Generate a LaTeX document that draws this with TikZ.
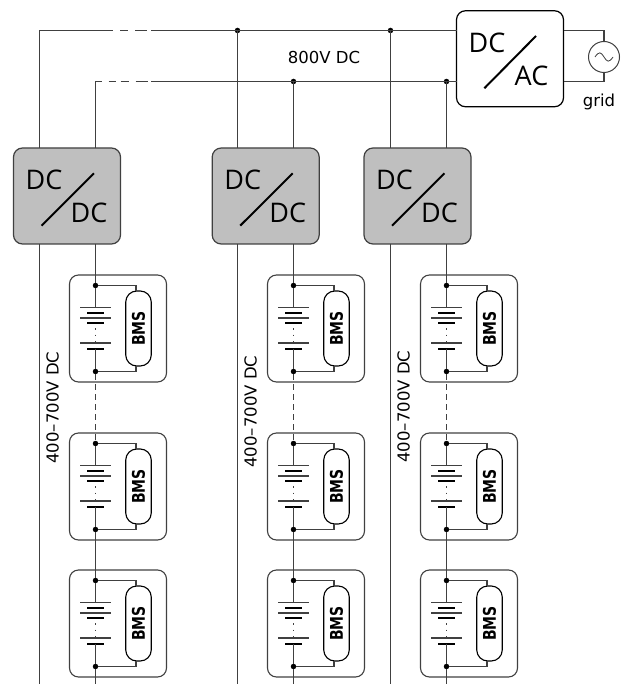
\documentclass[tikz,border=0pt]{standalone}
\usepackage{fontspec}
\setmainfont{Open Sans}
\newfontfamily\labelfont{DejaVu Sans}
\newfontfamily\bmsfont[FakeStretch=0.8]{DejaVu Sans}
\usetikzlibrary{calc}
\definecolor{wirecol}{HTML}{404040}
\tikzset{
  x=1pt,y=-1pt,
  wire/.style={draw=wirecol,line width=1.25pt},
  dashtop/.style={wire,dash pattern=on 8pt off 7pt on 8pt off 7pt on 12pt off 4pt},
  dashlow/.style={wire,dash pattern=on 6pt off 7pt on 7pt off 5pt on 8pt off 7pt on 12pt off 4pt},
  vdash/.style={wire,dash pattern=on 6pt off 4pt},
  conv/.style={draw=wirecol,line width=1.2pt,rounded corners=9pt,minimum width=107pt,minimum height=96pt,inner sep=0pt,outer sep=0pt},
  modbox/.style={draw=wirecol,line width=1.1pt,rounded corners=9pt,minimum width=97pt,minimum height=107pt,inner sep=0pt,outer sep=0pt},
  bms/.style={draw=black,line width=1.1pt,rounded corners=11pt,minimum width=25.5pt,minimum height=75pt,inner sep=0pt,outer sep=0pt},
  bmstxt/.style={inner sep=0pt,rotate=90,font=\bmsfont\fontsize{17.5}{17.5}\selectfont\bfseries},
  junc/.style={circle,fill=black,draw=none,minimum size=5.5pt,inner sep=0pt,outer sep=0pt},
  bigtxt/.style={font=\fontsize{27}{27}\selectfont,inner sep=0pt},
  smalltxt/.style={font=\labelfont\fontsize{16.5}{16.5}\selectfont,inner sep=0pt,text=black},
  slash/.style={draw=black,line width=2pt},
  plong/.style={draw=wirecol,line width=1.1pt},
  pshort/.style={draw=black,line width=2pt},
  tap/.style={draw=wirecol,line width=1.2pt},
}
\begin{document}
\begin{tikzpicture}
\useasboundingbox (0,0) rectangle (625,684);

% inverter
\node[conv,draw=black] (inv) at (510,58.75) {};
\node[bigtxt] (invdc) at (487,42.5) {DC};
\node[bigtxt] (invac) at (531.5,76) {AC};
\draw[slash] (484.3,88.3) -- (536,36);

% grid
\node[circle,draw=wirecol,line width=1pt,minimum size=31pt,inner sep=0pt,outer sep=0pt] (src) at (604,57) {};
\draw[wirecol,line width=0.8pt] (595,57) .. controls (599,51) and (601,52) .. (604,57) .. controls (607,62) and (609,63) .. (613,57);
\node[smalltxt] (gridlbl) at (599,102) {grid};
\coordinate (invT) at (563.5,30.5);
\coordinate (invB) at (563.5,81.5);
\coordinate (invL1) at (456.5,30.5);
\coordinate (invL2) at (456.5,81.5);
\draw[wire] (invT) -| (src.north);
\draw[wire] (invB) -| (src.south);

% buses
\coordinate (busA) at (39.5,30.5);
\coordinate (a1) at (105,30.5);
\coordinate (a2) at (151,30.5);
\coordinate (b1) at (95.5,81.5);
\coordinate (b2) at (151,81.5);
\node[junc] (ja2) at (237.5,30.5) {};
\node[junc] (ja3) at (390.5,30.5) {};
\node[junc] (jb2) at (293.5,81.5) {};
\node[junc] (jb3) at (446.5,81.5) {};
\draw[wire] (busA) -- (a1);
\draw[dashtop] (a1) -- (a2);
\draw[wire] (a2) -- (invL1);
\draw[dashlow] (b1) -- (b2);
\draw[wire] (b2) -- (invL2);
\node[smalltxt] (vbus) at (324,57) {800V DC};

% converter columns
\foreach \c/\xa/\xb/\xm/\ly in {1/39.5/95.5/67/407.5,2/237.5/293.5/265.7/411.5,3/390.5/446.5/417.5/406.5}{
  \pgfmathsetmacro{\xx}{\xm-53.5}
  \node[conv,fill=black!25] (conv\c) at (\xm,196) {};
  \node[bigtxt] (dcA\c) at ({\xx+30.5},179.5) {DC};
  \node[bigtxt] (dcB\c) at ({\xx+75.5},213) {DC};
  \draw[slash] ({\xx+28},225.7) -- ({\xx+80.5},173.3);
  \coordinate (ta\c) at (\xa,148);
  \coordinate (tb\c) at (\xb,148);
  \coordinate (ba\c) at (\xa,244);
  \coordinate (bb\c) at (\xb,244);
  \coordinate (enda\c) at (\xa,684);
  \coordinate (endb\c) at (\xb,684);
  \draw[wire] (ba\c) -- (enda\c);
  \node[smalltxt,rotate=90] (vlbl\c) at ({\xa+13},\ly) {400–700V DC};
  % modules
  \foreach \r/\yy in {1/275,2/433,3/570}{
    \node[modbox] (mod\c\r) at ({\xb+22.5},{\yy+53.5}) {};
    \node[junc] (jt\c\r) at (\xb,{\yy+10.5}) {};
    \node[junc] (jb\c\r) at (\xb,{\yy+96.5}) {};
    \node[bms] (bms\c\r) at ({\xb+43},{\yy+53.5}) {};
    \node[bmstxt] (bt\c\r) at (bms\c\r.center) {BMS};
    \draw[tap] (jt\c\r) -| ({\xb+40.5},{\yy+16});
    \draw[tap] (jb\c\r) -| ({\xb+40.5},{\yy+91});
    % battery
    \draw[plong] ({\xb-15.5},{\yy+32.5}) -- ({\xb+15.5},{\yy+32.5});
    \draw[pshort] ({\xb-8.5},{\yy+38}) -- ({\xb+8.5},{\yy+38});
    \draw[plong] ({\xb-15.5},{\yy+43}) -- ({\xb+15.5},{\yy+43});
    \draw[pshort] ({\xb-8.5},{\yy+48}) -- ({\xb+8.5},{\yy+48});
    \draw[plong] ({\xb-15.5},{\yy+68}) -- ({\xb+15.5},{\yy+68});
    \draw[pshort] ({\xb-8.5},{\yy+73.7}) -- ({\xb+8.5},{\yy+73.7});
    \draw[wirecol,line width=0.8pt,dash pattern=on 1.5pt off 5pt] (\xb,{\yy+53}) -- (\xb,{\yy+67});
    \draw[wire] (jt\c\r) -- (\xb,{\yy+32.5});
    \draw[wire] (\xb,{\yy+73.7}) -- (jb\c\r);
  }
  \draw[wire] (\xa,30.5) -- (ta\c);
  \draw[wire] (\xb,81.5) -- (tb\c);
  \draw[wire] (bb\c) -- (jt\c1);
  \draw[vdash] (jb\c1) -- (jt\c2);
  \draw[wire] (jb\c2) -- (jt\c3);
  \draw[wire] (jb\c3) -- (endb\c);
}
\end{tikzpicture}
\end{document}
